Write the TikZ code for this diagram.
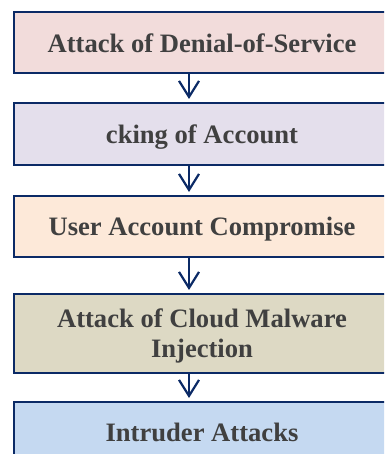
\documentclass[tikz,border=0pt]{standalone}
\usepackage{fontspec}
\setmainfont{Liberation Serif}
\usetikzlibrary{arrows.meta}
\definecolor{bordc}{HTML}{0B2A66}
\definecolor{txtc}{HTML}{404040}
\definecolor{fillA}{HTML}{F2DCDB}
\definecolor{fillB}{HTML}{E4DFEC}
\definecolor{fillC}{HTML}{FDE9D9}
\definecolor{fillD}{HTML}{DDD9C4}
\definecolor{fillE}{HTML}{C5D9F1}
\tikzset{
  stagebox/.style={draw=bordc, line width=2pt, minimum width=376pt, inner sep=0pt,
    text=txtc, align=center, text depth=0pt,
    font=\fontsize{26.6pt}{30pt}\selectfont\bfseries},
  flowarrow/.style={draw=bordc, line width=2.2pt, shorten >=3pt,
    -{Straight Barb[length=16pt,width=20pt]}}
}
\begin{document}
\begin{tikzpicture}[x=1pt,y=-1pt]
\useasboundingbox (0,0) rectangle (384,454);
\clip (0,0) rectangle (384,454);
\node[stagebox, fill=fillA, minimum height=61pt] (b1) at (202,43) {Attack of Denial-of-Service};
\node[stagebox, fill=fillB, minimum height=62pt] (b2) at (202,134) {cking of Account};
\node[stagebox, fill=fillC, minimum height=61pt] (b3) at (202,226.5) {User Account Compromise};
\node[stagebox, fill=fillD, minimum height=79pt] (b4) at (202,333.5) {Attack of Cloud Malware\\Injection};
\node[stagebox, fill=fillE, minimum height=61pt] (b5) at (202,432.5) {Intruder Attacks};
\coordinate (ax) at (189,0);
\draw[flowarrow] (b1.south -| ax) -- (b2.north -| ax);
\draw[flowarrow] (b2.south -| ax) -- (b3.north -| ax);
\draw[flowarrow] (b3.south -| ax) -- (b4.north -| ax);
\draw[flowarrow] (b4.south -| ax) -- (b5.north -| ax);
\end{tikzpicture}
\end{document}
